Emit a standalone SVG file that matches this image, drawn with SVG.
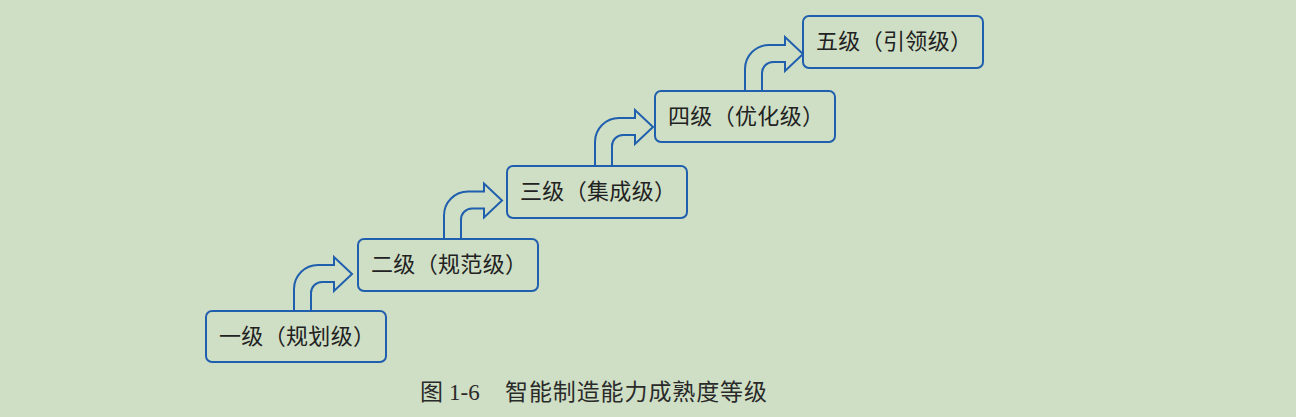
<svg xmlns="http://www.w3.org/2000/svg" xmlns:xlink="http://www.w3.org/1999/xlink" width="1296" height="417" viewBox="0 0 1296 417">
<style>
.bg{fill:#cfdfc5}
.box{fill:#cfdfc5;stroke:#1f5fae;stroke-width:2}
.arr{fill:#cfdfc5;stroke:#1f5fae;stroke-width:2;stroke-linejoin:miter}
.lbl{font-family:"Noto Sans CJK SC","Noto Sans",sans-serif;font-size:22px;fill:#222}
.cap{font-family:"Liberation Serif","Noto Sans CJK SC",serif;font-size:23px;fill:#2a2a2a}
</style>
<defs>
<path id="arrow" d="M0,48 V24 A24,24 0 0 1 24,0 H40 V-8 L58,9 L40,26 V17 H28 A11,11 0 0 0 17,28 V48"/>
</defs>
<rect class="bg" x="0" y="0" width="1296" height="417"/>
<g id="connectors">
<use xlink:href="#arrow" href="#arrow" class="arr" transform="translate(294,265)"/>
<use xlink:href="#arrow" href="#arrow" class="arr" transform="translate(444,191.5)"/>
<use xlink:href="#arrow" href="#arrow" class="arr" transform="translate(595,118)"/>
<use xlink:href="#arrow" href="#arrow" class="arr" transform="translate(745,45)"/>
</g>
<g id="level1"><rect class="box" x="206" y="311" width="180" height="51" rx="6"/><text class="lbl" x="219" y="344" textLength="156" lengthAdjust="spacing">一级（规划级）</text></g>
<g id="level2"><rect class="box" x="358" y="239" width="180" height="52" rx="6"/><text class="lbl" x="371" y="272" textLength="156" lengthAdjust="spacing">二级（规范级）</text></g>
<g id="level3"><rect class="box" x="507" y="166" width="180" height="52" rx="6"/><text class="lbl" x="520" y="199" textLength="156" lengthAdjust="spacing">三级（集成级）</text></g>
<g id="level4"><rect class="box" x="655" y="91" width="180" height="51" rx="6"/><text class="lbl" x="668" y="124" textLength="156" lengthAdjust="spacing">四级（优化级）</text></g>
<g id="level5"><rect class="box" x="803" y="16" width="180" height="52" rx="6"/><text class="lbl" x="816" y="49" textLength="156" lengthAdjust="spacing">五级（引领级）</text></g>
<g id="caption"><text class="cap" y="400"><tspan x="420">图</tspan><tspan x="449">1-6</tspan><tspan x="505" textLength="262" lengthAdjust="spacing">智能制造能力成熟度等级</tspan></text></g>
</svg>
